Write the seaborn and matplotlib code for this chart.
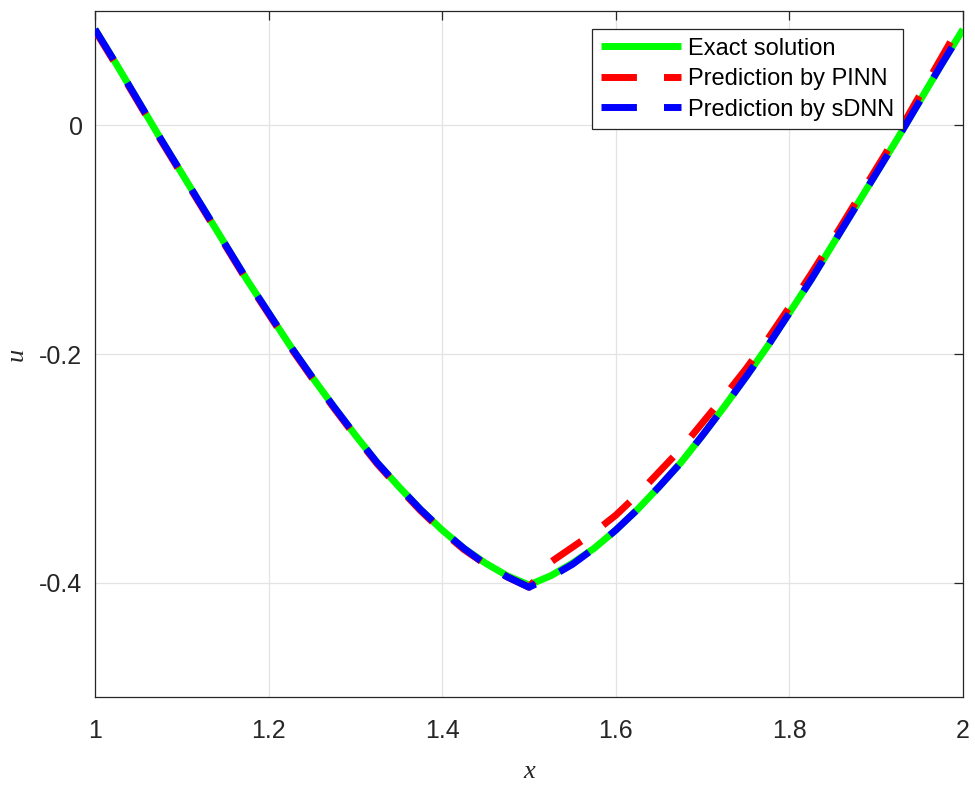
import matplotlib
matplotlib.use("Agg")
import matplotlib.pyplot as plt
import seaborn as sns

# ---------------- data ----------------
x_vals = [1.000, 1.025, 1.050, 1.075, 1.100, 1.125, 1.150, 1.175, 1.200, 1.225,
          1.250, 1.275, 1.300, 1.325, 1.350, 1.375, 1.400, 1.425, 1.450, 1.475,
          1.500,
          1.525, 1.550, 1.575, 1.600, 1.625, 1.650, 1.675, 1.700, 1.725, 1.750,
          1.775, 1.800, 1.825, 1.850, 1.875, 1.900, 1.925, 1.950, 1.975, 2.000]
exact = [0.084, 0.053, 0.021, -0.011, -0.042, -0.073, -0.104, -0.135, -0.164, -0.193,
         -0.220, -0.246, -0.271, -0.295, -0.316, -0.336, -0.354, -0.370, -0.383, -0.394,
         -0.402,
         -0.394, -0.383, -0.370, -0.354, -0.336, -0.316, -0.295, -0.271, -0.246, -0.220,
         -0.193, -0.164, -0.135, -0.104, -0.073, -0.042, -0.011, 0.021, 0.053, 0.084]
pinn = [0.083, 0.052, 0.020, -0.012, -0.043, -0.074, -0.105, -0.136, -0.165, -0.194,
        -0.221, -0.247, -0.272, -0.296, -0.317, -0.337, -0.355, -0.371, -0.384, -0.395,
        -0.404,
        -0.382, -0.369, -0.356, -0.341, -0.323, -0.303, -0.283, -0.260, -0.237, -0.213,
        -0.187, -0.159, -0.130, -0.100, -0.069, -0.038, -0.007, 0.026, 0.059, 0.092]
sdnn = [0.084, 0.053, 0.021, -0.011, -0.042, -0.073, -0.104, -0.135, -0.164, -0.193,
        -0.220, -0.246, -0.271, -0.295, -0.316, -0.336, -0.354, -0.370, -0.384, -0.395,
        -0.404,
        -0.395, -0.384, -0.370, -0.354, -0.336, -0.316, -0.295, -0.271, -0.246, -0.220,
        -0.193, -0.164, -0.135, -0.104, -0.073, -0.042, -0.011, 0.021, 0.053, 0.084]
series_labels = ["Exact solution", "Prediction by PINN", "Prediction by sDNN"]
x_ticks = [1, 1.2, 1.4, 1.6, 1.8, 2]
x_tick_labels = ["1", "1.2", "1.4", "1.6", "1.8", "2"]
y_ticks = [-0.4, -0.2, 0]
y_tick_labels = ["-0.4", "-0.2", "0"]

# ---------------- style ----------------
sns.set_style("white")
plt.rcParams['font.family'] = ['Liberation Sans', 'DejaVu Sans']

fig = plt.figure(figsize=(9.75, 7.89), dpi=100)
ax = fig.add_axes([95 / 975, 1 - 697 / 789, (963 - 95) / 975, (697 - 11) / 789])

lw = 5.0
dash = (0, (5.1, 3.9))
sns.lineplot(x=x_vals, y=exact, ax=ax, color=(0, 1, 0), linewidth=lw,
             solid_capstyle='butt', solid_joinstyle='round',
             label=series_labels[0], zorder=3)
sns.lineplot(x=x_vals, y=pinn, ax=ax, color=(1, 0, 0), linewidth=lw, linestyle=dash,
             dash_capstyle='butt', label=series_labels[1], zorder=4)
sns.lineplot(x=x_vals, y=sdnn, ax=ax, color=(0, 0, 1), linewidth=lw, linestyle=dash,
             dash_capstyle='butt', label=series_labels[2], zorder=5)

ax.set_xlim(1, 2)
ax.set_ylim(-0.5, 0.1)
ax.set_xticks(x_ticks)
ax.set_xticklabels(x_tick_labels)
ax.set_yticks(y_ticks)
ax.set_yticklabels(y_tick_labels)

ax.grid(True, color='#e3e3e3', linewidth=0.9)
ax.set_axisbelow(True)
for s in ax.spines.values():
    s.set_color('#262626')
    s.set_linewidth(0.9)
    s.set_visible(True)

ax.tick_params(direction='in', length=6.3, width=0.9, color='#262626',
               top=True, right=True, labelsize=18, labelcolor='#262626')
ax.tick_params(axis='x', pad=16)
ax.tick_params(axis='y', pad=9)

ax.set_xlabel('x', fontsize=19, family='Liberation Serif', style='italic',
              color='#262626', labelpad=13)
ax.set_ylabel('u', fontsize=19, family='Liberation Serif', style='italic',
              color='#262626', labelpad=8)

leg = ax.legend(loc='upper right', bbox_to_anchor=(903 / 975, 1 - 29 / 789),
                bbox_transform=fig.transFigure, borderaxespad=0,
                fontsize=17, frameon=True, fancybox=False, framealpha=1,
                edgecolor='#262626', handlelength=3.39, handletextpad=0.3,
                labelspacing=0.36, borderpad=0.37)
leg.get_frame().set_linewidth(0.9)
for t in leg.get_texts():
    t.set_color('black')

fig.savefig("out.png", dpi=100)
